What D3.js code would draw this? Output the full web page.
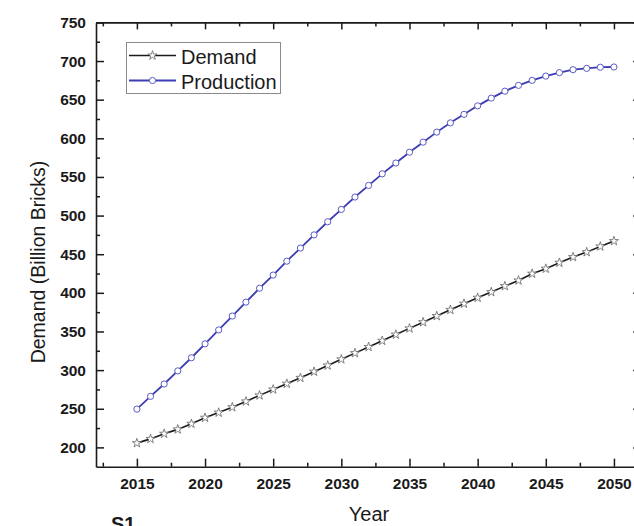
<!DOCTYPE html>
<html>
<head>
<meta charset="utf-8">
<script src="https://cdn.jsdelivr.net/npm/d3@7"></script>
<style>
  body { margin: 0; background: #fff; }
  svg { display: block; font-family: "Liberation Sans", Arial, Helvetica, sans-serif; }
</style>
</head>
<body>
<svg id="chart" width="634" height="526"></svg>
<script>
// Brick demand vs. production, 2015-2050 (billion bricks)
const years = [2015, 2016, 2017, 2018, 2019, 2020, 2021, 2022, 2023, 2024,
               2025, 2026, 2027, 2028, 2029, 2030, 2031, 2032, 2033, 2034,
               2035, 2036, 2037, 2038, 2039, 2040, 2041, 2042, 2043, 2044,
               2045, 2046, 2047, 2048, 2049, 2050];

const demand = [205.5, 211, 217.7, 223.3, 230.6, 238.4, 245, 252, 259.5, 267.3,
                275, 282.4, 290, 298, 306, 314, 322, 330, 338, 346,
                354, 362, 370, 378, 386, 393.7, 401, 408.7, 416, 424.8,
                431.3, 439, 446.3, 452.7, 460, 467];

const production = [249.5, 266, 282, 299, 316, 334, 352, 370, 388, 406,
                    423, 441, 458, 475, 492, 508, 524, 539, 554, 568,
                    582, 595, 608, 620, 631, 642, 652, 661, 668.5, 675,
                    680.5, 685, 688.8, 690.5, 692, 692.3];

const seriesNames = ["Demand", "Production"];
const xTicks = [2015, 2020, 2025, 2030, 2035, 2040, 2045, 2050];
const yTicks = [200, 250, 300, 350, 400, 450, 500, 550, 600, 650, 700, 750];
const xTitle = "Year";
const yTitle = "Demand (Billion Bricks)";
const panelTag = "S1";

const ink = "#1a1a1a";
const blue = "#3c3cb4";

const svg = d3.select("#chart");

const x = d3.scaleLinear().domain([2012, 2052]).range([96, 641.2]);
const y = d3.scaleLinear().domain([175, 750]).range([466.7, 22.4]);

const xMinor = d3.range(2012.5, 2052, 5);
const yMinor = d3.range(225, 750, 50);

function styleAxis(g, labelled) {
  g.selectAll("path, line").attr("stroke", ink).attr("stroke-width", 1.5);
  g.select(".domain").attr("stroke-width", 1.6);
  if (labelled) {
    g.selectAll("text")
      .attr("fill", ink)
      .style("font-size", "15.5px")
      .style("font-weight", "bold")
      .style("font-family", '"Liberation Sans", Arial, sans-serif');
  }
}

// bottom axis (ticks point inward)
svg.append("g")
  .attr("transform", `translate(0,${y(175)})`)
  .call(d3.axisBottom(x).tickValues(xTicks).tickFormat(d3.format("d"))
        .tickSize(-8).tickSizeOuter(0).tickPadding(11))
  .call(g => styleAxis(g, true));
svg.append("g")
  .attr("transform", `translate(0,${y(175)})`)
  .call(d3.axisBottom(x).tickValues(xMinor).tickFormat("").tickSize(-4).tickSizeOuter(0))
  .call(g => { g.select(".domain").remove(); styleAxis(g, false); });

// top axis
svg.append("g")
  .attr("transform", `translate(0,${y(750)})`)
  .call(d3.axisTop(x).tickValues(xTicks).tickFormat("").tickSize(-7).tickSizeOuter(0))
  .call(g => styleAxis(g, false));
svg.append("g")
  .attr("transform", `translate(0,${y(750)})`)
  .call(d3.axisTop(x).tickValues(xMinor).tickFormat("").tickSize(-4).tickSizeOuter(0))
  .call(g => { g.select(".domain").remove(); styleAxis(g, false); });

// left axis
svg.append("g")
  .attr("transform", `translate(${x(2012)},0)`)
  .call(d3.axisLeft(y).tickValues(yTicks).tickFormat(d3.format("d"))
        .tickSize(-8).tickSizeOuter(0).tickPadding(10))
  .call(g => styleAxis(g, true));
svg.append("g")
  .attr("transform", `translate(${x(2012)},0)`)
  .call(d3.axisLeft(y).tickValues(yMinor).tickFormat("").tickSize(-4).tickSizeOuter(0))
  .call(g => { g.select(".domain").remove(); styleAxis(g, false); });

// right axis
svg.append("g")
  .attr("transform", `translate(${x(2052)},0)`)
  .call(d3.axisRight(y).tickValues(yTicks).tickFormat("").tickSize(-8).tickSizeOuter(0))
  .call(g => styleAxis(g, false));
svg.append("g")
  .attr("transform", `translate(${x(2052)},0)`)
  .call(d3.axisRight(y).tickValues(yMinor).tickFormat("").tickSize(-4).tickSizeOuter(0))
  .call(g => { g.select(".domain").remove(); styleAxis(g, false); });

// series
const demandPts = years.map((yr, i) => ({ yr, v: demand[i] }));
const prodPts = years.map((yr, i) => ({ yr, v: production[i] }));
const line = d3.line().x(d => x(d.yr)).y(d => y(d.v));
const star = d3.symbol(d3.symbolStar, 26);

svg.append("path").datum(demandPts)
  .attr("d", line).attr("fill", "none")
  .attr("stroke", ink).attr("stroke-width", 1.6);
svg.append("g").selectAll("path").data(demandPts).join("path")
  .attr("transform", d => `translate(${x(d.yr)},${y(d.v)})`)
  .attr("d", star)
  .attr("fill", "#fff").attr("stroke", "#666").attr("stroke-width", 0.8);

svg.append("path").datum(prodPts)
  .attr("d", line).attr("fill", "none")
  .attr("stroke", blue).attr("stroke-width", 1.8);
svg.append("g").selectAll("circle").data(prodPts).join("circle")
  .attr("cx", d => x(d.yr)).attr("cy", d => y(d.v)).attr("r", 3.1)
  .attr("fill", "#fff").attr("stroke", "#5a5ac6").attr("stroke-width", 1);

// legend
const legend = svg.append("g");
legend.append("rect")
  .attr("x", 126.5).attr("y", 42.5).attr("width", 154).attr("height", 51)
  .attr("fill", "#fff").attr("stroke", "#8a8a8a").attr("stroke-width", 1);
const legendRows = [
  { name: seriesNames[0], color: ink, cy: 55.5, marker: "star" },
  { name: seriesNames[1], color: blue, cy: 80.5, marker: "circle" }
];
legendRows.forEach(r => {
  legend.append("line")
    .attr("x1", 129).attr("x2", 176).attr("y1", r.cy).attr("y2", r.cy)
    .attr("stroke", r.color).attr("stroke-width", r.marker === "star" ? 1.6 : 1.8);
  if (r.marker === "star") {
    legend.append("path").attr("transform", `translate(152.5,${r.cy})`)
      .attr("d", star).attr("fill", "#fff").attr("stroke", "#666").attr("stroke-width", 0.8);
  } else {
    legend.append("circle").attr("cx", 152.5).attr("cy", r.cy).attr("r", 3.1)
      .attr("fill", "#fff").attr("stroke", "#5a5ac6").attr("stroke-width", 1);
  }
  legend.append("text")
    .attr("x", 181).attr("y", r.cy + 8.5)
    .attr("fill", ink).style("font-size", "20px")
    .text(r.name);
});

// titles
svg.append("text")
  .attr("transform", "translate(38,262) rotate(-90)")
  .attr("dy", "0.35em")
  .attr("text-anchor", "middle")
  .attr("fill", ink).style("font-size", "19.5px")
  .text(yTitle);

svg.append("text")
  .attr("x", 369).attr("y", 521)
  .attr("text-anchor", "middle")
  .attr("fill", ink).style("font-size", "20px")
  .text(xTitle);

// panel tag, sitting at the lower page edge
svg.append("text")
  .attr("x", 111).attr("y", 531)
  .attr("fill", ink).style("font-size", "20px").style("font-weight", "bold")
  .text(panelTag);
</script>
</body>
</html>
